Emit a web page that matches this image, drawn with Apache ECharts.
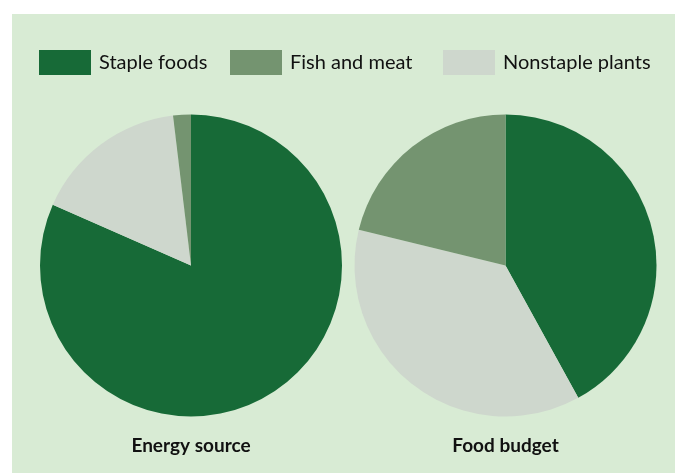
<!DOCTYPE html>
<html>
<head>
<meta charset="utf-8">
<script src="https://cdn.jsdelivr.net/npm/echarts@6/dist/echarts.min.js"></script>
<style>
html,body{margin:0;padding:0;background:#fff;}
#chart{width:675px;height:473px;}
</style>
</head>
<body>
<div id="chart"></div>
<script>
// Slice categories in clockwise drawing order (from 12 o'clock)
const categories = ['Staple foods', 'Nonstaple plants', 'Fish and meat'];
// Legend order as shown
const legendOrder = ['Staple foods', 'Fish and meat', 'Nonstaple plants'];
// Percent shares
const energySource = [81.6, 16.5, 1.9];
const foodBudget = [42.0, 36.8, 21.2];
const pieTitles = ['Energy source', 'Food budget'];

const colorMap = {
  'Staple foods': '#176a37',
  'Fish and meat': '#749470',
  'Nonstaple plants': '#ced7cd'
};
const bg = '#d8ebd4';
const fontFam = 'Lato, "Open Sans", sans-serif';

const chart = echarts.init(document.getElementById('chart'), null, {renderer: 'canvas'});

function toData(vals) {
  return categories.map((c, i) => ({name: c, value: vals[i], itemStyle: {color: colorMap[c]}}));
}

const legendLefts = [39, 230, 443];
const legends = legendOrder.map((name, i) => ({
  data: [name],
  left: legendLefts[i],
  top: 50,
  orient: 'horizontal',
  itemWidth: 52,
  itemHeight: 25,
  icon: 'rect',
  selectedMode: false,
  padding: 0,
  textStyle: {fontFamily: fontFam, fontSize: 20, color: '#111', padding: [0, 0, 0, 3]}
}));

const centersX = [191, 505.5];
const option = {
  backgroundColor: '#ffffff',
  animation: false,
  color: legendOrder.map(n => colorMap[n]),
  graphic: [{
    type: 'rect',
    z: -10,
    silent: true,
    shape: {x: 12, y: 14, width: 663, height: 459},
    style: {fill: bg}
  }],
  legend: legends,
  title: pieTitles.map((t, i) => ({
    text: t,
    left: centersX[i],
    top: 436,
    textAlign: 'center',
    padding: 0,
    textStyle: {fontFamily: fontFam, fontWeight: 'bold', fontSize: 19, color: '#111'}
  })),
  series: [energySource, foodBudget].map((vals, i) => ({
    type: 'pie',
    center: [centersX[i], 265.5],
    radius: [0, 151],
    startAngle: 90,
    clockwise: true,
    label: {show: false},
    labelLine: {show: false},
    itemStyle: {borderWidth: 0},
    emphasis: {disabled: true},
    data: toData(vals)
  }))
};
chart.setOption(option);
</script>
</body>
</html>
